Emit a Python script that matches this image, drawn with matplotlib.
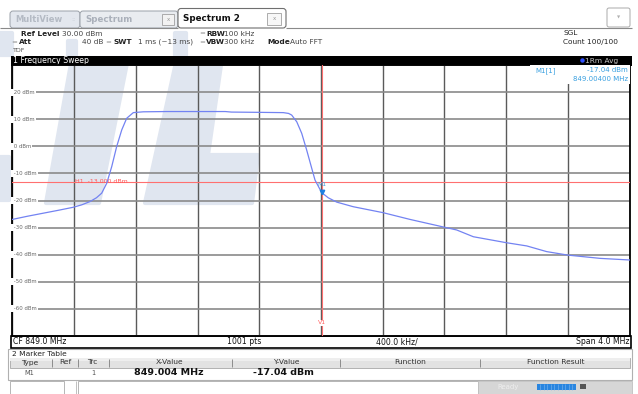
import numpy as np
import matplotlib
matplotlib.use("Agg")
import matplotlib.pyplot as plt
from matplotlib.patches import Rectangle, Polygon, FancyBboxPatch
import matplotlib.transforms as mtransforms

# ---------------- data ----------------
freq_mhz = [847.000, 847.100, 847.200, 847.300, 847.395, 847.450, 847.503, 847.545,
            847.579, 847.612, 847.644, 847.676, 847.709, 847.741, 847.784, 847.849,
            848.000, 848.200, 848.380, 848.420, 848.600, 848.756, 848.790, 848.810,
            848.843, 848.875, 848.907, 848.940, 848.961, 849.004, 849.047, 849.102,
            849.209, 849.402, 849.577, 849.801, 849.879, 849.987, 850.200, 850.333,
            850.462, 850.600, 850.808, 851.000]
level_dbm = [-27.0, -25.8, -24.7, -23.6, -22.5, -21.6, -20.4, -19.0,
             -17.3, -13.6, -7.5, -0.1, 6.1, 10.4, 12.5, 12.8,
             12.9, 12.9, 12.9, 12.7, 12.6, 12.5, 12.2, 11.6,
             9.1, 4.85, -1.3, -8.1, -12.4, -17.04, -19.0, -20.6,
             -22.3, -24.5, -27.0, -29.9, -30.9, -33.4, -35.6, -36.8,
             -38.9, -40.2, -41.4, -42.0]

center_mhz = 849.0
span_mhz = 4.0
ref_level_dbm = 30.0
range_db = 100.0
n_points = 1001
y_tick_values = [20, 10, 0, -10, -20, -30, -40, -50, -60]
h1_level_dbm = -13.0
marker_freq_mhz = 849.004
marker_level_dbm = -17.04

table_columns = ["Type", "Ref", "Trc", "X-Value", "Y-Value", "Function", "Function Result"]

# ---------------- figure ----------------
W, H = 638, 394
fig = plt.figure(figsize=(W / 100, H / 100), dpi=100)
fig.patch.set_facecolor("white")

bg = fig.add_axes([0, 0, 1, 1], zorder=0)
bg.set_xlim(0, W)
bg.set_ylim(H, 0)
bg.axis("off")


def rect(x0, y0, x1, y1, fc="none", ec="none", lw=0.8, z=1):
    bg.add_patch(Rectangle((x0, y0), x1 - x0, y1 - y0, facecolor=fc,
                           edgecolor=ec, lw=lw, zorder=z))


def txt(x, y, s, size=5.3, color="#222222", weight="normal", ha="left", z=5):
    bg.text(x, y, s, fontsize=size, color=color, fontweight=weight,
            ha=ha, va="center", zorder=z)


def hline(y, x0, x1, color="#888888", lw=0.8, z=3):
    bg.plot([x0, x1], [y, y], color=color, lw=lw, zorder=z, solid_capstyle="butt")


def vline(x, y0, y1, color="#888888", lw=0.8, z=3):
    bg.plot([x, x], [y0, y1], color=color, lw=lw, zorder=z, solid_capstyle="butt")


# ---- watermark (faint logo) ----
wm = "#e0e6f0"
for poly in [
    [(72, 58), (128, 58), (99, 203), (46, 203)],
    [(177, 58), (222, 58), (208, 155), (258, 155), (252, 203), (145, 203)],
    [(0, 157), (9, 157), (9, 200), (0, 200)],
    [(0, 33), (12, 33), (12, 55), (0, 55)],
    [(68, 41), (76, 41), (76, 55), (68, 55)],
    [(175, 33), (186, 33), (186, 55), (175, 55)],
]:
    bg.add_patch(Polygon(poly, closed=True, facecolor=wm, edgecolor=wm,
                         lw=3, joinstyle="round", zorder=2))

# ---- tabs ----
hline(27.5, 0, 178, color="#8a8a8a", lw=0.8)
hline(27.5, 286, 632, color="#8a8a8a", lw=0.8)
bg.add_patch(FancyBboxPatch((10, 11), 70, 17, boxstyle="round,pad=0,rounding_size=3",
                            facecolor="#e3e7ee", edgecolor="#9aa0a8", lw=0.7, zorder=1))
bg.add_patch(FancyBboxPatch((80, 11), 98, 17, boxstyle="round,pad=0,rounding_size=3",
                            facecolor="#e9ecf0", edgecolor="#9aa0a8", lw=0.7, zorder=1))
bg.add_patch(FancyBboxPatch((178, 8.5), 108, 19.5, boxstyle="round,pad=0,rounding_size=3",
                            facecolor="white", edgecolor="#6f6f6f", lw=0.8, zorder=1.5))
txt(15, 19.5, "MultiView", size=6, color="#b4bac4", weight="bold")
txt(71, 19.5, "::", size=4.5, color="#c5cad2")
txt(85, 19.5, "Spectrum", size=6.2, color="#aab0ba", weight="bold")
rect(162, 13.5, 174, 25, fc="#f2f2f2", ec="#a0a0a0", lw=0.6, z=3)
txt(168, 19.3, "x", size=4, color="#999999", ha="center")
txt(183, 18.5, "Spectrum 2", size=6.3, color="#111111", weight="bold")
rect(267, 12.5, 281, 25, fc="#f7f7f7", ec="#a0a0a0", lw=0.6, z=3)
txt(274, 18.6, "x", size=4, color="#999999", ha="center")
bg.add_patch(FancyBboxPatch((607, 8), 23, 19, boxstyle="round,pad=0,rounding_size=2",
                            facecolor="white", edgecolor="#aaaaaa", lw=0.7, zorder=1))
txt(618.5, 17.5, "\u25BC", size=3, color="#b0b0b0", ha="center")

# ---- header settings ----
txt(21, 33.5, "Ref Level", size=5.3, weight="bold")
txt(62, 33.5, f"{ref_level_dbm:.2f} dBm", size=5.3, color="#444444")
txt(199, 33.5, "=", size=5, color="#999999")
txt(206, 33.5, "RBW", size=5.3, weight="bold")
txt(224, 33.5, "100 kHz", size=5.3, color="#444444")
txt(11, 42, "=", size=5, color="#999999")
txt(19, 42, "Att", size=5.3, weight="bold")
txt(82, 42, "40 dB", size=5.3, color="#444444")
txt(105, 42, "=", size=5, color="#999999")
txt(113, 42, "SWT", size=5.3, weight="bold")
txt(138, 42, "1 ms (~13 ms)", size=5.3, color="#444444")
txt(199, 42, "=", size=5, color="#999999")
txt(206, 42, "VBW", size=5.3, weight="bold")
txt(224, 42, "300 kHz", size=5.3, color="#444444")
txt(267, 42, "Mode", size=5.3, weight="bold")
txt(290, 42, "Auto FFT", size=5.3, color="#444444")
txt(13, 50.5, "TDF", size=4.5, color="#555555")
txt(563, 33, "SGL", size=5.3, color="#222222")
txt(563, 42, "Count 100/100", size=5.3, color="#222222")

# ---- black title bar ----
rect(10.5, 55.5, 631.5, 65.5, fc="black", z=3)
txt(13, 60.5, "1 Frequency Sweep", size=5.6, color="white", z=6)
bg.plot([582], [60.3], marker="o", ms=2.2, color="#3050ff", zorder=6)
txt(585, 60.5, "1Rm Avg", size=5.3, color="#c8c8c8", z=6)

# ---- footer strip ----
rect(11, 336, 631, 348, fc="white", ec="black", lw=1.2, z=3)
txt(13, 342, f"CF {center_mhz:.1f} MHz", size=5.6, color="#111111")
txt(227, 342, f"{n_points} pts", size=5.6, color="#111111")
txt(376, 342, f"{span_mhz / 10 * 1000:.1f} kHz/", size=5.6, color="#111111")
txt(629, 342, f"Span {span_mhz:.1f} MHz", size=5.6, color="#111111", ha="right")

# ---- marker table ----
rect(8, 348.5, 632, 379.5, fc="white", ec="#b0b0b0", lw=0.8, z=1)
txt(12, 353.5, "2 Marker Table", size=5.4, color="#222222")
rect(10, 357.5, 630, 367.5, fc="#e2e2e2", ec="#a8a8a8", lw=0.6, z=2)
rect(10, 357.5, 630, 361, fc="#eeeeee", ec="none", z=2.2)
col_edges = [52, 78, 109, 232, 340, 480]
for cx in col_edges:
    vline(cx, 358.5, 366.5, color="#8c8c8c", lw=0.7)
col_centers = [30, 65, 92, 170, 286, 410, 556]
for name, cx in zip(table_columns, col_centers):
    txt(cx, 362.5, name, size=5.4, color="#333333", ha="center")
txt(29, 372.8, "M1", size=4.8, color="#555555", ha="center")
txt(93, 372.8, "1", size=4.8, color="#555555", ha="center")
txt(169, 372.5, f"{marker_freq_mhz:.3f} MHz", size=6.8, color="#111111", weight="bold", ha="center")
txt(283, 372.5, f"{marker_level_dbm:.2f} dBm", size=6.8, color="#111111", weight="bold", ha="center")

# ---- status bar ----
rect(10, 380.5, 64, 394, fc="white", ec="#b5b5b5", lw=0.7, z=1)
rect(78, 380.5, 478, 394, fc="white", ec="#b5b5b5", lw=0.7, z=1)
vline(75.5, 381, 394, color="#b5b5b5", lw=0.6)
rect(478, 380.5, 632, 394, fc="#d6d6d6", ec="#c0c0c0", lw=0.6, z=1)
txt(497, 386.5, "Ready", size=5, color="#eeeeee")
rect(537, 383.5, 576, 389.5, fc="#2a86e0", ec="none", z=3)
for sx in np.arange(540, 576, 3.6):
    vline(sx, 383.5, 389.5, color="#7fb8f0", lw=0.4, z=4)
rect(579.5, 384, 585.5, 389, fc="#555555", ec="none", z=3)

# ---------------- main plot ----------------
x0, x1, y0, y1 = 12.3, 629.7, 65.3, 335.7
ax = fig.add_axes([x0 / W, 1 - y1 / H, (x1 - x0) / W, (y1 - y0) / H], zorder=1)
ax.set_facecolor("none")
f_lo, f_hi = center_mhz - span_mhz / 2, center_mhz + span_mhz / 2
ax.set_xlim(f_lo, f_hi)
ax.set_ylim(ref_level_dbm - range_db, ref_level_dbm)
ax.set_xticks(np.linspace(f_lo, f_hi, 11))
ax.set_yticks(np.linspace(ref_level_dbm - range_db, ref_level_dbm, 11))
ax.tick_params(length=0, labelbottom=False, labelleft=False)
ax.xaxis.grid(True, color="#5a5a5a", lw=1.0)
ax.yaxis.grid(True, color="#8a8a8a", lw=1.2)
ax.set_axisbelow(True)
for sp in ax.spines.values():
    sp.set_color("black")
    sp.set_linewidth(1.3)

blend = mtransforms.blended_transform_factory(ax.transAxes, ax.transData)
for v in y_tick_values:
    ax.text(0.0, v, f" {v} dBm", transform=blend, fontsize=3.9, color="#666666",
            ha="left", va="center", zorder=3,
            bbox=dict(facecolor="white", edgecolor="none", pad=0.6))

# limit / marker lines
ax.axhline(h1_level_dbm, color="#ff7070", lw=0.8, zorder=3.5)
ax.axvline(marker_freq_mhz, color="#ff7070", lw=0.8, zorder=3.5)
ax.text(847.405, h1_level_dbm + 0.2, f"H1  {h1_level_dbm:.3f} dBm", fontsize=4.5,
        color="#ff5a5a", ha="left", va="center", zorder=3.6)
ax.text(marker_freq_mhz, -65.3, "V1", fontsize=4.5, color="#ff6060", ha="center",
        va="center", zorder=3.7, bbox=dict(facecolor="white", edgecolor="none", pad=0.3))

# trace
ax.plot(freq_mhz, level_dbm, color="#7383f2", lw=0.9, zorder=4)

# marker
ax.plot([marker_freq_mhz], [marker_level_dbm], marker="v", ms=3.2, color="#1e7fe0",
        zorder=5, linestyle="none")
ax.text(marker_freq_mhz, marker_level_dbm + 2.8, "M1", fontsize=4.3, color="#3aa0e0",
        ha="center", va="center", zorder=5)

# marker readout
ax.add_patch(Rectangle((0.838, 0.932), 0.162, 0.068, transform=ax.transAxes,
                       facecolor="white", edgecolor="none", zorder=3))
ax.text(0.8466, 0.979, "M1[1]", transform=ax.transAxes, fontsize=5, color="#3aa0e0",
        ha="left", va="center", zorder=6)
ax.text(0.997, 0.981, f"{marker_level_dbm:.2f} dBm", transform=ax.transAxes, fontsize=5,
        color="#3aa0e0", ha="right", va="center", zorder=6)
ax.text(0.997, 0.950, f"{marker_freq_mhz:.5f} MHz", transform=ax.transAxes, fontsize=5,
        color="#3aa0e0", ha="right", va="center", zorder=6)

fig.savefig("out.png", dpi=100, facecolor="white")
